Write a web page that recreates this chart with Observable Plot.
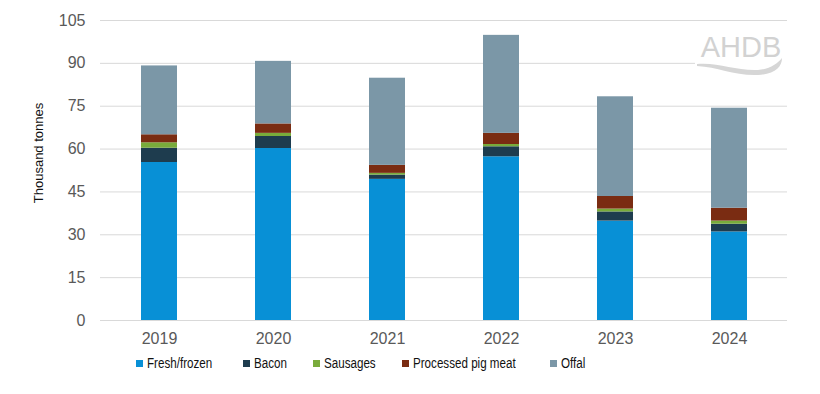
<!DOCTYPE html>
<html>
<head>
<meta charset="utf-8">
<script src="https://cdn.jsdelivr.net/npm/d3@7"></script>
<script src="https://cdn.jsdelivr.net/npm/@observablehq/plot@0.6"></script>
<style>
  html, body { margin: 0; padding: 0; background: #fff; }
  #wrap { position: relative; width: 820px; height: 394px; overflow: hidden; font-family: "Liberation Sans", Arial, sans-serif; }
  #ylabel { position: absolute; left: 38px; top: 153px; transform: translate(-50%, -50%) rotate(-90deg); font-size: 13px; color: #111; white-space: nowrap; }
  .leg { position: absolute; top: 355px; height: 16px; display: flex; align-items: center; font-family: "Liberation Sans", Arial, sans-serif; font-size: 14px; color: #111; white-space: nowrap; }
  .leg .sw { width: 7px; height: 7px; margin-right: 4px; flex: none; }
  .leg .tx { display: inline-block; transform: scaleX(0.83); transform-origin: left center; }
  #logo { position: absolute; left: 0; top: 0; pointer-events: none; }
</style>
</head>
<body>
<div id="wrap"></div>
<script>
const years = ["2019", "2020", "2021", "2022", "2023", "2024"];
const seriesNames = ["Fresh/frozen", "Bacon", "Sausages", "Processed pig meat", "Offal"];
const freshFrozen = [55.3, 60.2, 49.4, 57.3, 34.8, 31.0];
const bacon = [5.0, 4.2, 1.5, 3.5, 3.2, 2.7];
const sausages = [1.9, 1.1, 0.6, 0.8, 1.0, 1.1];
const processedPigMeat = [2.8, 3.3, 2.8, 3.9, 4.4, 4.5];
const offal = [24.1, 21.9, 30.5, 34.3, 34.9, 35.0];
const yTicks = [0, 15, 30, 45, 60, 75, 90, 105];
const yLabel = "Thousand tonnes";

const colors = ["#0890d6", "#1e3c4e", "#79ab3b", "#7a2c12", "#7b97a7"];
const legendLeft = [136, 243, 313, 402, 550];

const seriesValues = [freshFrozen, bacon, sausages, processedPigMeat, offal];
const rows = [];
seriesNames.forEach((s, i) => {
  years.forEach((y, j) => rows.push({ year: y, series: s, value: seriesValues[i][j] }));
});

const chart = Plot.plot({
  width: 820,
  height: 394,
  marginTop: 20,
  marginBottom: 74,
  marginLeft: 100,
  marginRight: 33,
  style: { fontFamily: "Liberation Sans, Arial, sans-serif", background: "#fff" },
  x: { domain: years, paddingInner: 0.686, paddingOuter: 0.343, label: null },
  y: { domain: [0, 105], label: null },
  color: { domain: seriesNames, range: colors },
  marks: [
    Plot.gridY({ ticks: yTicks, stroke: "#d9d9d9", strokeOpacity: 1, strokeWidth: 1 }),
    Plot.barY(rows, { x: "year", y: "value", fill: "series" }),
    Plot.axisY({ ticks: yTicks, tickSize: 0, tickPadding: 15, fontSize: 16, color: "#595959", label: null }),
    Plot.axisX({ tickSize: 0, tickPadding: 12, fontSize: 16, color: "#595959", label: null })
  ]
});

const wrap = document.getElementById("wrap");
wrap.appendChild(chart);

// AHDB logo overlay
const ns = "http://www.w3.org/2000/svg";
const logo = document.createElementNS(ns, "svg");
logo.setAttribute("id", "logo");
logo.setAttribute("width", 820);
logo.setAttribute("height", 394);
logo.innerHTML = `
  <rect x="695" y="28" width="96" height="48" fill="#fff"/>
  <text x="741" y="56.5" text-anchor="middle" font-family="Liberation Sans, Arial, sans-serif" font-size="29" fill="#d2d2d2">AHDB</text>
  <path d="M697,64 C718,62 736,71 758,70 C770,69 777,64 782,58 C782,67 775,74 758,75 C735,76 718,67 697,66 Z" fill="#d6d6d6"/>
`;
wrap.appendChild(logo);

// Y label
const yl = document.createElement("div");
yl.id = "ylabel";
yl.textContent = yLabel;
wrap.appendChild(yl);

// Legend
seriesNames.forEach((s, i) => {
  const item = document.createElement("div");
  item.className = "leg";
  item.style.left = legendLeft[i] + "px";
  const sw = document.createElement("span");
  sw.className = "sw";
  sw.style.background = colors[i];
  const tx = document.createElement("span");
  tx.className = "tx";
  tx.textContent = s;
  item.appendChild(sw);
  item.appendChild(tx);
  wrap.appendChild(item);
});
</script>
</body>
</html>
